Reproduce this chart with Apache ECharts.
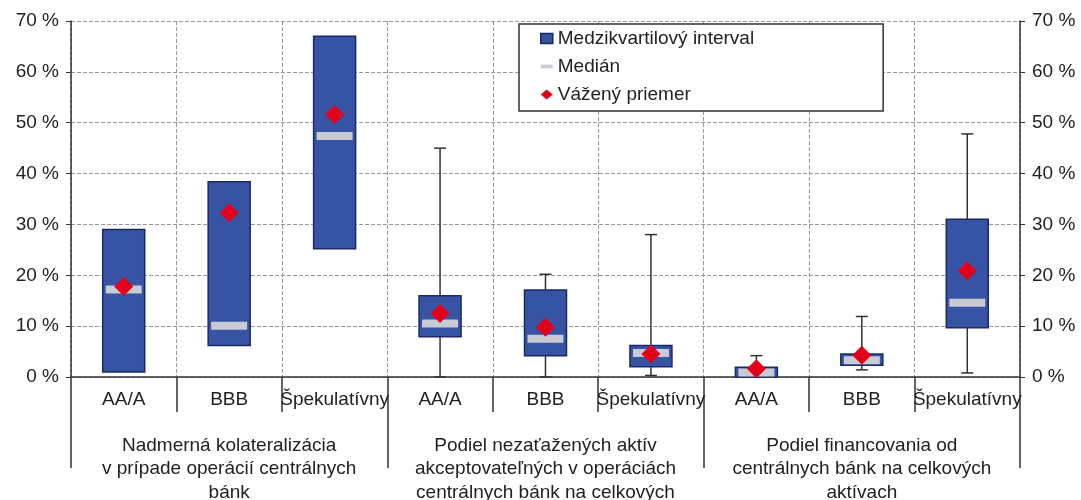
<!DOCTYPE html>
<html>
<head>
<meta charset="utf-8">
<script src="https://cdn.jsdelivr.net/npm/echarts@6/dist/echarts.min.js"></script>
<style>
  html, body { margin: 0; padding: 0; background: #fff; }
  #chart { width: 1081px; height: 500px; }
</style>
</head>
<body>
<div id="chart"></div>
<script>
const categories = ["AA/A", "BBB", "Špekulatívny", "AA/A", "BBB", "Špekulatívny", "AA/A", "BBB", "Špekulatívny"];
const groups = [
  "Nadmerná kolateralizácia\nv prípade operácií centrálnych\nbánk",
  "Podiel nezaťažených aktív\nakceptovateľných v operáciách\ncentrálnych bánk na celkových\naktívach",
  "Podiel financovania od\ncentrálnych bánk na celkových\naktívach",
];
// interquartile range (%)
const q1 = [1.0, 6.2, 25.2, 7.9, 4.2, 2.0, 0, 2.3, 9.7];
const q3 = [29.0, 38.4, 67.0, 16.0, 17.1, 6.2, 1.9, 4.5, 31.0];
const median = [17.2, 10.1, 47.4, 10.5, 7.5, 4.7, 0.9, 3.3, 14.6];
const weightedMean = [17.8, 32.3, 51.6, 12.5, 9.8, 4.5, 1.6, 4.3, 20.9];
// whiskers (no whiskers in the first group)
const whiskerMin = [null, null, null, 0, 0, 0.3, 0, 1.4, 0.8];
const whiskerMax = [null, null, null, 45.0, 20.2, 28.0, 4.2, 11.9, 47.8];

const FONT = "Liberation Sans";
const FS = 19;
const BLUE = "#3753a4";
const NAVY = "#1a2a66";
const GREY = "#c8cad4";
const RED = "#e3001b";

const chart = echarts.init(document.getElementById("chart"));

const yAxisCommon = {
  type: "value",
  min: 0,
  max: 70,
  interval: 10,
  axisLine: { show: true, lineStyle: { color: "#333", width: 1.5 } },
  axisTick: { show: true, length: 5, lineStyle: { color: "#333" } },
  axisLabel: { formatter: "{value} %", color: "#222", fontSize: FS, fontFamily: FONT, margin: 12 },
};

chart.setOption({
  backgroundColor: "#fff",
  animation: false,
  grid: { left: 71, right: 61, top: 21, bottom: 123, outerBoundsMode: "none", containLabel: false },
  legend: {
    orient: "vertical",
    left: 519,
    top: 24,
    padding: [5, 129, 7, 21],
    itemGap: 9,
    itemWidth: 12,
    itemHeight: 10,
    borderColor: "#333",
    borderWidth: 1.5,
    backgroundColor: "#fff",
    textStyle: { fontSize: FS, color: "#222", fontFamily: FONT },
    data: [
      { name: "Medzikvartilový interval", icon: "rect", itemStyle: { color: BLUE, borderColor: NAVY, borderWidth: 1.5 } },
      { name: "Medián", icon: "path://M0,0h10v3h-10z", itemStyle: { color: GREY } },
      { name: "Vážený priemer", icon: "diamond", itemStyle: { color: RED } },
    ],
  },
  xAxis: [
    {
      type: "category",
      data: categories,
      axisLine: { show: true, lineStyle: { color: "#333", width: 1.5 } },
      axisTick: { show: true, length: 35, lineStyle: { color: "#333", width: 1.5 } },
      axisLabel: { color: "#222", fontSize: FS, fontFamily: FONT, margin: 13, interval: 0 },
      splitLine: { show: true, lineStyle: { color: "#999", type: "dashed" } },
    },
    {
      type: "category",
      position: "bottom",
      data: groups,
      axisLine: { show: false },
      axisTick: { show: true, length: 91, lineStyle: { color: "#333", width: 1.5 } },
      axisLabel: { color: "#222", fontSize: FS, fontFamily: FONT, margin: 57, lineHeight: 23.5, interval: 0 },
      splitLine: { show: false },
    },
  ],
  yAxis: [
    Object.assign({}, yAxisCommon, {
      position: "left",
      splitLine: { show: true, lineStyle: { color: "#999", type: "dashed" } },
    }),
    Object.assign({}, yAxisCommon, {
      position: "right",
      splitLine: { show: false },
    }),
  ],
  series: [
    {
      name: "whiskers",
      type: "custom",
      z: 2,
      data: categories.map((c, i) => [i, whiskerMin[i], whiskerMax[i]]),
      renderItem(params, api) {
        const lo = api.value(1);
        const hi = api.value(2);
        if (lo == null || hi == null || isNaN(lo) || isNaN(hi)) return;
        const p1 = api.coord([api.value(0), lo]);
        const p2 = api.coord([api.value(0), hi]);
        const cap = 6;
        const style = { stroke: "#333", lineWidth: 1.5 };
        return {
          type: "group",
          children: [
            { type: "line", shape: { x1: p1[0], y1: p1[1], x2: p2[0], y2: p2[1] }, style },
            { type: "line", shape: { x1: p1[0] - cap, y1: p1[1], x2: p1[0] + cap, y2: p1[1] }, style },
            { type: "line", shape: { x1: p2[0] - cap, y1: p2[1], x2: p2[0] + cap, y2: p2[1] }, style },
          ],
        };
      },
    },
    {
      name: "Medzikvartilový interval",
      type: "custom",
      z: 3,
      data: categories.map((c, i) => [i, q1[i], q3[i]]),
      renderItem(params, api) {
        const bottom = api.coord([api.value(0), api.value(1)]);
        const top = api.coord([api.value(0), api.value(2)]);
        const w = 42;
        return {
          type: "rect",
          shape: { x: bottom[0] - w / 2, y: top[1], width: w, height: bottom[1] - top[1] },
          style: { fill: BLUE, stroke: NAVY, lineWidth: 1.5 },
        };
      },
    },
    {
      name: "Medián",
      type: "scatter",
      z: 4,
      symbol: "rect",
      symbolSize: [36, 8],
      itemStyle: { color: GREY, opacity: 1 },
      data: categories.map((c, i) => [i, median[i]]),
    },
    {
      name: "Vážený priemer",
      type: "scatter",
      z: 5,
      symbol: "diamond",
      symbolSize: 19,
      itemStyle: { color: RED, opacity: 1 },
      data: categories.map((c, i) => [i, weightedMean[i]]),
    },
  ],
});
</script>
</body>
</html>
